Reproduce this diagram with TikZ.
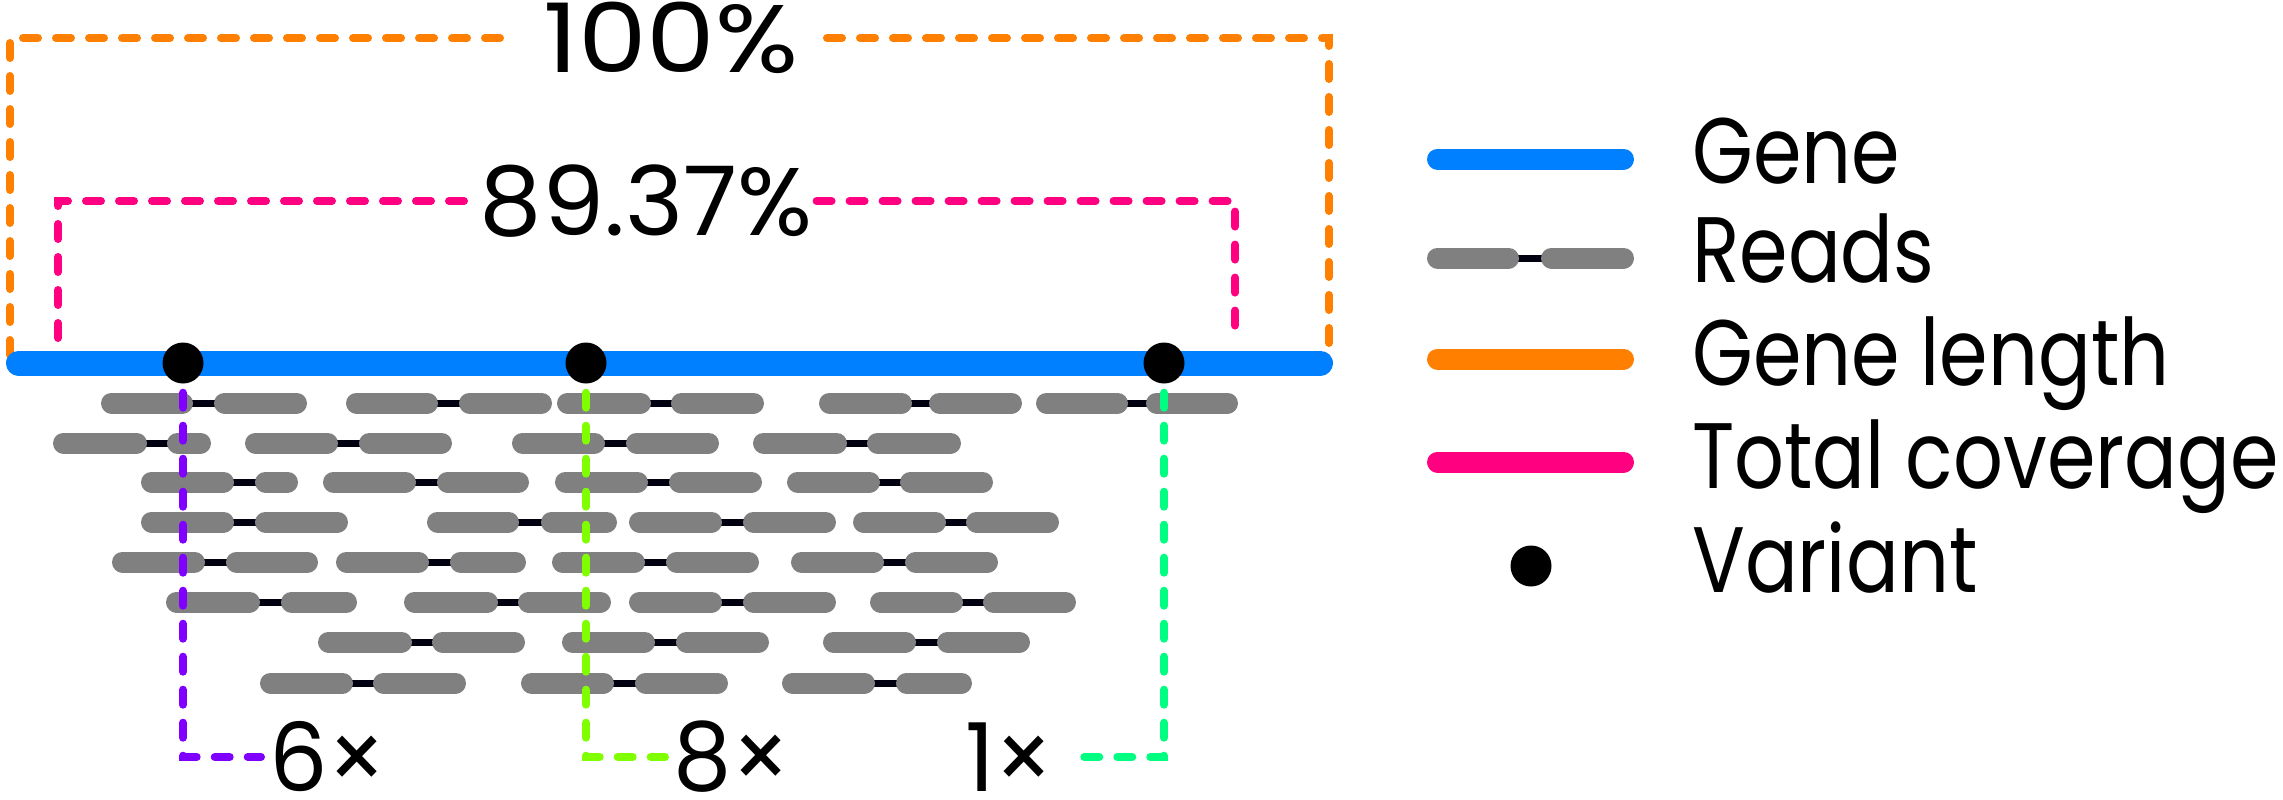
\documentclass[tikz,border=0pt]{standalone}
\usepackage{fontspec}
\setmainfont{Poppins}
\newfontfamily\figfont[FakeStretch=0.84]{Poppins}
\newfontfamily\fullfont[FakeStretch=1.14]{Poppins}
\newfontfamily\covfont[FakeStretch=1.03]{Poppins}
\newfontfamily\depthfont[FakeStretch=0.97]{Poppins}
\usetikzlibrary{positioning}
\definecolor{genecol}{HTML}{0080FF}
\definecolor{lencol}{HTML}{FF8000}
\definecolor{covcol}{HTML}{FF0080}
\definecolor{readcol}{HTML}{808080}
\definecolor{linkcol}{HTML}{000010}
\definecolor{hitA}{HTML}{8000FF}
\definecolor{hitB}{HTML}{80FF00}
\definecolor{hitC}{HTML}{00FF80}
\tikzset{
    gene/.style={draw=genecol, line width=25pt, line cap=round},
    readbar/.style={draw=readcol, line width=21pt, line cap=round},
    readlink/.style={draw=linkcol, line width=7pt},
    bracket/.style={line width=8pt, line cap=round, dash pattern=on 15pt off 18pt},
    variant/.style={circle, fill=black, minimum size=41pt, inner sep=0pt},
    bignum/.style={inner ysep=0pt, text=black},
    countnum/.style={font=\depthfont\fontsize{95}{100}\selectfont, inner xsep=8pt, inner ysep=0pt},
    legendtext/.style={font=\figfont\fontsize{93}{100}\selectfont, anchor=base west, inner sep=0pt}
}

\begin{document}
\begin{tikzpicture}[x=1pt, y=-1pt]
    \useasboundingbox (0,0) rectangle (2283,800);

    % gene length and total coverage
    \node[bignum, font=\fullfont\fontsize{96}{100}\selectfont, inner xsep=28pt] (full) at (671,38) {100\%};
    \node[bignum, font=\covfont\fontsize{96}{100}\selectfont, inner xsep=4pt] (cov) at (646,201) {89.37\%};
    \draw[bracket, lencol] (10,355) |- (full) -| (1329,355);
    \draw[bracket, covcol] (58,338) |- (cov) -| (1235,338);

    % gene and variants
    \coordinate (gL) at (18.5,363);
    \coordinate (gR) at (1320.5,363);
    \draw[gene] (gL) -- (gR);
    \node[variant] (v1) at (183,363) {};
    \node[variant] (v2) at (586,363) {};
    \node[variant] (v3) at (1164,363) {};

    % reads: row y / first mate / second mate
    \foreach \y/\a/\b/\c/\d in {
        403/101/193/214/307, 403/346/438/459/552, 403/557/651/671/764, 403/819/912/929/1022, 403/1036/1128/1146/1238,
        443/53/147/167/211, 443/245/338/359/452, 443/512/605/626/719, 443/753/847/867/961,
        482/141/234/255/298, 482/323/416/437/529, 482/555/648/669/762, 482/787/880/900/993,
        522/141/234/255/348, 522/427/519/541/617, 522/629/722/743/836, 522/853/946/966/1059,
        562/112/205/226/318, 562/336/429/450/526, 562/552/645/666/759, 562/791/884/905/998,
        602/166/260/281/357, 602/404/498/518/611, 602/629/722/743/836, 602/870/963/983/1076,
        642/318/412/432/525, 642/562/655/676/769, 642/823/916/937/1030,
        683/260/353/373/466, 683/521/614/635/728, 683/782/875/896/972}
    {
        \draw[readlink] (\b-10,\y) -- (\c+10,\y);
        \draw[readbar] (\a+10.5,\y) -- (\b-10.5,\y);
        \draw[readbar] (\c+10.5,\y) -- (\d-10.5,\y);
    }

    % depth at each variant
    \node[countnum, anchor=west] (c6) at (261,757) {6×};
    \node[countnum, anchor=west] (c8) at (665,757) {8×};
    \node[countnum, anchor=east, inner xsep=30pt] (c1) at (1084,757) {1×};
    \draw[bracket, hitA] ([yshift=-9pt]v1.south) |- (c6);
    \draw[bracket, hitB] ([yshift=-9pt]v2.south) |- (c8);
    \draw[bracket, hitC] ([yshift=-9pt]v3.south) |- (c1);

    % legend
    \draw[gene, line width=21pt] (1437.5,159) -- (1623.5,159);
    \node[legendtext] (lgene) at (1692,183) {Gene};
    \draw[readlink] (1509,258) -- (1551,258);
    \draw[readbar] (1437.5,258) -- (1508.5,258);
    \draw[readbar] (1551.5,258) -- (1623.5,258);
    \node[legendtext] (lreads) at (1692,282) {Reads};
    \draw[gene, draw=lencol, line width=21pt] (1437.5,359) -- (1623.5,359);
    \node[legendtext] (llen) at (1692,385) {Gene length};
    \draw[gene, draw=covcol, line width=21pt] (1437.5,462) -- (1623.5,462);
    \node[legendtext] (lcov) at (1692,488) {Total coverage};
    \node[variant] (lvar) at (1531,566) {};
    \node[legendtext] (lvartext) at (1692,592) {Variant};
\end{tikzpicture}
\end{document}
